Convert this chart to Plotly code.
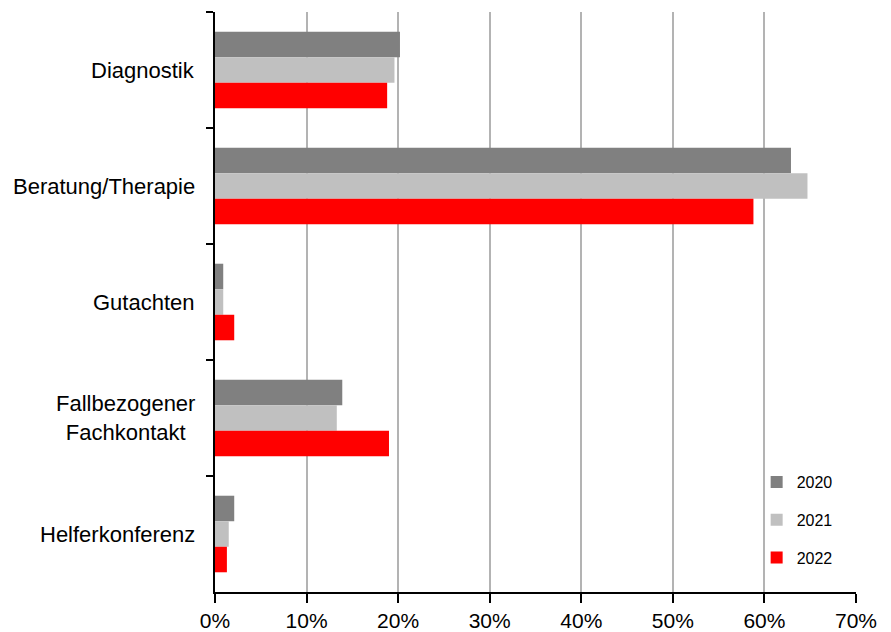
import plotly.graph_objects as go

categories = ["Diagnostik", "Beratung/Therapie", "Gutachten", "Fallbezogener<br>Fachkontakt", "Helferkonferenz"]
years = ["2020", "2021", "2022"]
values_2020 = [20.2, 62.9, 0.9, 13.9, 2.1]
values_2021 = [19.6, 64.7, 0.9, 13.3, 1.5]
values_2022 = [18.8, 58.8, 2.1, 19.0, 1.3]
colors = ["#808080", "#c0c0c0", "#ff0000"]
x_ticks = [0, 10, 20, 30, 40, 50, 60, 70]
x_ticklabels = [f"{v}%" for v in x_ticks]

FONT = "Liberation Sans, Arial, sans-serif"

fig = go.Figure()
for name, vals, col in zip(years, [values_2020, values_2021, values_2022], colors):
    fig.add_trace(go.Bar(
        y=categories, x=vals, name=name, orientation="h",
        marker=dict(color=col, line=dict(width=0)),
        legendgroup=name,
    ))

for cat in categories:
    fig.add_annotation(
        x=-0.028, xref="paper", y=cat, yref="y",
        text=cat, showarrow=False, xanchor="right", yanchor="middle",
        align="center", font=dict(family=FONT, size=22, color="#000"),
    )

fig.update_layout(
    width=891, height=632,
    margin=dict(l=215, r=35, t=12, b=40, autoexpand=False),
    paper_bgcolor="white", plot_bgcolor="white",
    barmode="group", bargap=0.34, bargroupgap=0,
    font=dict(family=FONT, color="#000"),
    legend=dict(
        x=0.845, xanchor="left", y=0.219, yanchor="top",
        traceorder="grouped", tracegroupgap=14,
        font=dict(family=FONT, size=16, color="#000"),
        bgcolor="rgba(0,0,0,0)",
    ),
    xaxis=dict(
        range=[0, 70], tickvals=x_ticks, ticktext=x_ticklabels,
        showgrid=True, gridcolor="#b3b3b3", gridwidth=2,
        showline=True, linecolor="#000", linewidth=2,
        ticks="outside", ticklen=9, tickwidth=2, tickcolor="#000",
        tickfont=dict(family=FONT, size=21, color="#000"),
        zeroline=False, fixedrange=True, automargin=False,
    ),
    yaxis=dict(
        autorange="reversed", showticklabels=False,
        showline=True, linecolor="#000", linewidth=2,
        ticks="outside", ticklen=7, tickwidth=2, tickcolor="#000",
        tickson="boundaries", showgrid=False, zeroline=False, automargin=False,
    ),
)

fig.write_html("out.html")
